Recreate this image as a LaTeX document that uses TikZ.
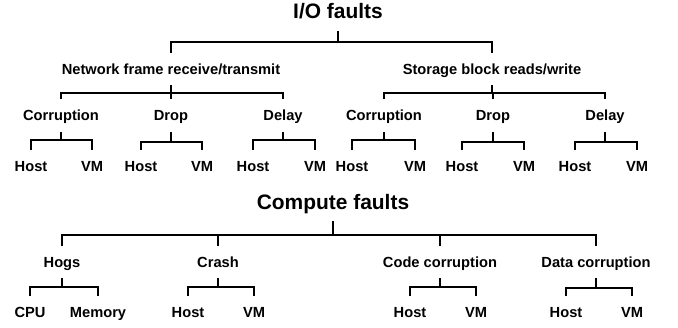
\documentclass[tikz,border=0pt]{standalone}
\usepackage{fontspec}
\setsansfont{Liberation Sans}
\usepackage{tikz}

\begin{document}
\begin{tikzpicture}[x=0.75pt,y=-0.75pt,
	ttl/.style={font=\sffamily\bfseries\fontsize{15.7}{18}\selectfont,text height=11.3pt,text depth=0pt,inner xsep=2pt,inner ysep=9pt},
	lbl/.style={font=\sffamily\bfseries\fontsize{11}{13}\selectfont,text height=8pt,text depth=0pt,inner xsep=2pt,inner ysep=8pt},
	wire/.style={draw=black,line width=0.9pt}]

	\useasboundingbox (0,0) rectangle (678,328);

	% I/O faults
	\node[ttl] (io) at (338, 11)     {I/O faults};
	\node[lbl] (net) at (171, 69)     {Network frame receive/transmit};
	\node[lbl] (sto) at (492, 69)     {Storage block reads/write};

	\node[lbl] (ncor) at (61, 115.5)     {Corruption};
	\node[lbl] (ndrop) at (171, 115.5)     {Drop};
	\node[lbl] (ndel) at (283, 115.5)     {Delay};
	\node[lbl] (scor) at (384, 115.5)     {Corruption};
	\node[lbl] (sdrop) at (493, 115.5)     {Drop};
	\node[lbl] (sdel) at (605, 115.5)     {Delay};

	\node[lbl] (ncH) at (31, 166)     {Host};
	\node[lbl] (ncV) at (92, 166)     {VM};
	\node[lbl] (ndH) at (141, 166)     {Host};
	\node[lbl] (ndV) at (202, 166)     {VM};
	\node[lbl] (nlH) at (253, 166)     {Host};
	\node[lbl] (nlV) at (315, 166)     {VM};
	\node[lbl] (scH) at (352, 166)     {Host};
	\node[lbl] (scV) at (415, 166)     {VM};
	\node[lbl] (sdH) at (462, 166)     {Host};
	\node[lbl] (sdV) at (524, 166)     {VM};
	\node[lbl] (slH) at (575, 166)     {Host};
	\node[lbl] (slV) at (637, 166)     {VM};

	\coordinate (iobar) at (338, 42);
	\coordinate (netbar) at (171, 93);
	\coordinate (stobar) at (492, 93);
	\coordinate (ncbar) at (61, 140);
	\coordinate (ndbar) at (171, 142);
	\coordinate (nlbar) at (283, 140);
	\coordinate (scbar) at (384, 140);
	\coordinate (sdbar) at (493, 142);
	\coordinate (slbar) at (605, 142);

	\draw[wire] (io.south) -- (iobar);
	\draw[wire] (net.north) |- (iobar) -| (sto.north);

	\draw[wire] (net.south) -- (netbar);
	\draw[wire] (ncor.north) |- (netbar) -| (ndel.north);
	\draw[wire] (ndrop.north) -- (netbar);
	\draw[wire] (sto.south) -- (stobar);
	\draw[wire] (scor.north) |- (stobar) -| (sdel.north);
	\draw[wire] (sdrop.north) -- (sdrop.north |- stobar);

	\draw[wire] (ncor.south) -- (ncbar);
	\draw[wire] (ncH.north) |- (ncbar) -| (ncV.north);
	\draw[wire] (ndrop.south) -- (ndbar);
	\draw[wire] (ndH.north) |- (ndbar) -| (ndV.north);
	\draw[wire] (ndel.south) -- (nlbar);
	\draw[wire] (nlH.north) |- (nlbar) -| (nlV.north);
	\draw[wire] (scor.south) -- (scbar);
	\draw[wire] (scH.north) |- (scbar) -| (scV.north);
	\draw[wire] (sdrop.south) -- (sdbar);
	\draw[wire] (sdH.north) |- (sdbar) -| (sdV.north);
	\draw[wire] (sdel.south) -- (slbar);
	\draw[wire] (slH.north) |- (slbar) -| (slV.north);

	% Compute faults
	\node[ttl] (comp) at (333, 201.5)     {Compute faults};
	\node[lbl] (hogs) at (62, 262)     {Hogs};
	\node[lbl] (crash) at (218, 262)     {Crash};
	\node[lbl] (code) at (440, 262)     {Code corruption};
	\node[lbl] (data) at (596, 262)     {Data corruption};

	\node[lbl] (cpu) at (30, 312)     {CPU};
	\node[lbl] (mem) at (98, 312)     {Memory};
	\node[lbl] (crH) at (188, 312)     {Host};
	\node[lbl] (crV) at (254, 312)     {VM};
	\node[lbl] (coH) at (410, 312)     {Host};
	\node[lbl] (coV) at (476, 312)     {VM};
	\node[lbl] (daH) at (566, 312)     {Host};
	\node[lbl] (daV) at (632, 312)     {VM};

	\coordinate (cbar) at (333, 235);
	\coordinate (hgbar) at (62, 287);
	\coordinate (crbar) at (218, 287);
	\coordinate (cobar) at (440, 287);
	\coordinate (dabar) at (596, 288);

	\draw[wire] (comp.south) -- (cbar);
	\draw[wire] (hogs.north) |- (cbar) -| (data.north);
	\draw[wire] (crash.north) -- (crash.north |- cbar);
	\draw[wire] (code.north) -- (code.north |- cbar);

	\draw[wire] (hogs.south) -- (hgbar);
	\draw[wire] (cpu.north) |- (hgbar) -| (mem.north);
	\draw[wire] (crash.south) -- (crbar);
	\draw[wire] (crH.north) |- (crbar) -| (crV.north);
	\draw[wire] (code.south) -- (cobar);
	\draw[wire] (coH.north) |- (cobar) -| (coV.north);
	\draw[wire] (data.south) -- (dabar);
	\draw[wire] (daH.north) |- (dabar) -| (daV.north);
\end{tikzpicture}
\end{document}
